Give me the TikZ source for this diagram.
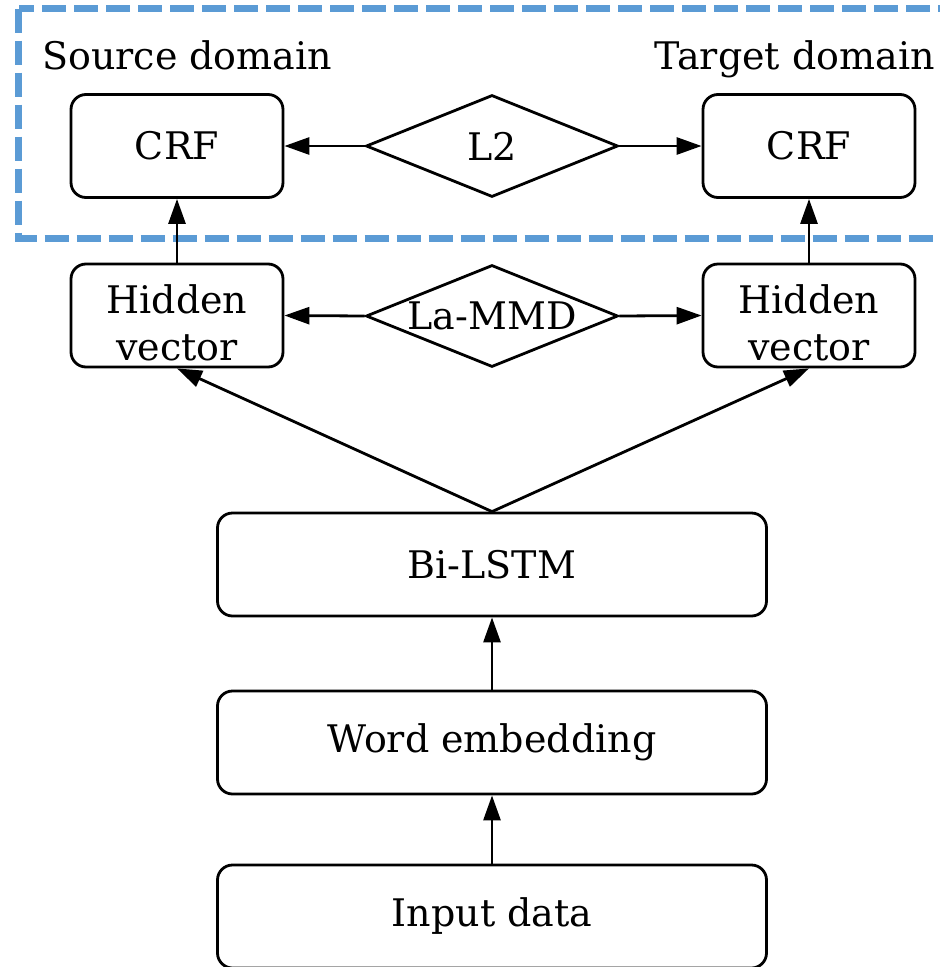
\documentclass[tikz,border=0pt]{standalone}
\usepackage{fontspec}
\setmainfont{DejaVu Serif}
\usetikzlibrary{shapes.geometric,arrows.meta}
\definecolor{dashblue}{HTML}{5B9BD5}
\newcommand{\lowertext}[1]{\raisebox{-7pt}[\height][\depth]{#1}}
\tikzset{
  box/.style={draw, line width=2.8pt, rounded corners=15pt, inner sep=0pt, align=center, font=\fontsize{38}{47}\selectfont},
  smallbox/.style={box, minimum width=212pt, minimum height=103pt},
  widebox/.style={box, minimum width=549pt, minimum height=103pt},
  loss/.style={draw, line width=2.8pt, shape=diamond, aspect=2.5, inner sep=0pt, minimum width=252pt, minimum height=102pt, font=\fontsize{38}{47}\selectfont},
  arr/.style={line width=2.8pt, -{Triangle[length=25pt,width=17pt]}},
  domainlabel/.style={inner sep=0pt, font=\fontsize{38}{47}\selectfont},
  dashbox/.style={draw=dashblue, line width=6.5pt, dash pattern=on 24pt off 8pt}
}
\begin{document}
\begin{tikzpicture}[x=1pt,y=-1pt]
\useasboundingbox (0,0) rectangle (940,967);
\draw[dashbox] (18.5,8.5) rectangle (980,238.5);
\node[domainlabel, anchor=base west] (src) at (42,69) {Source domain};
\node[domainlabel, anchor=base east] (tgt) at (935,69) {Target domain};
\node[smallbox] (crfL) at (177,146) {CRF};
\node[smallbox] (crfR) at (809,146) {CRF};
\node[loss] (l2) at (492,146) {L2};
\node[smallbox] (hidL) at (177,315.5) {\lowertext{Hidden}\\\lowertext{vector}};
\node[smallbox] (hidR) at (809,315.5) {\lowertext{Hidden}\\\lowertext{vector}};
\node[loss] (mmd) at (492,316) {La-MMD};
\node[widebox] (lstm) at (492,564.5) {Bi-LSTM};
\node[widebox] (emb) at (492,742.5) {Word embedding};
\node[widebox] (inp) at (492,916.5) {Input data};
\draw[arr] (l2.west) -- (crfL.east);
\draw[arr] (l2.east) -- (crfR.west);
\draw[arr] (mmd.west) -- (hidL.east);
\draw[arr] (mmd.east) -- (hidR.west);
\draw[arr] (hidL.north) -- (crfL.south);
\draw[arr] (hidR.north) -- (crfR.south);
\draw[arr] (lstm.north) -- (hidL.south);
\draw[arr] (lstm.north) -- (hidR.south);
\draw[arr] (emb.north) -- (lstm.south);
\draw[arr] (inp.north) -- (emb.south);
\end{tikzpicture}
\end{document}
